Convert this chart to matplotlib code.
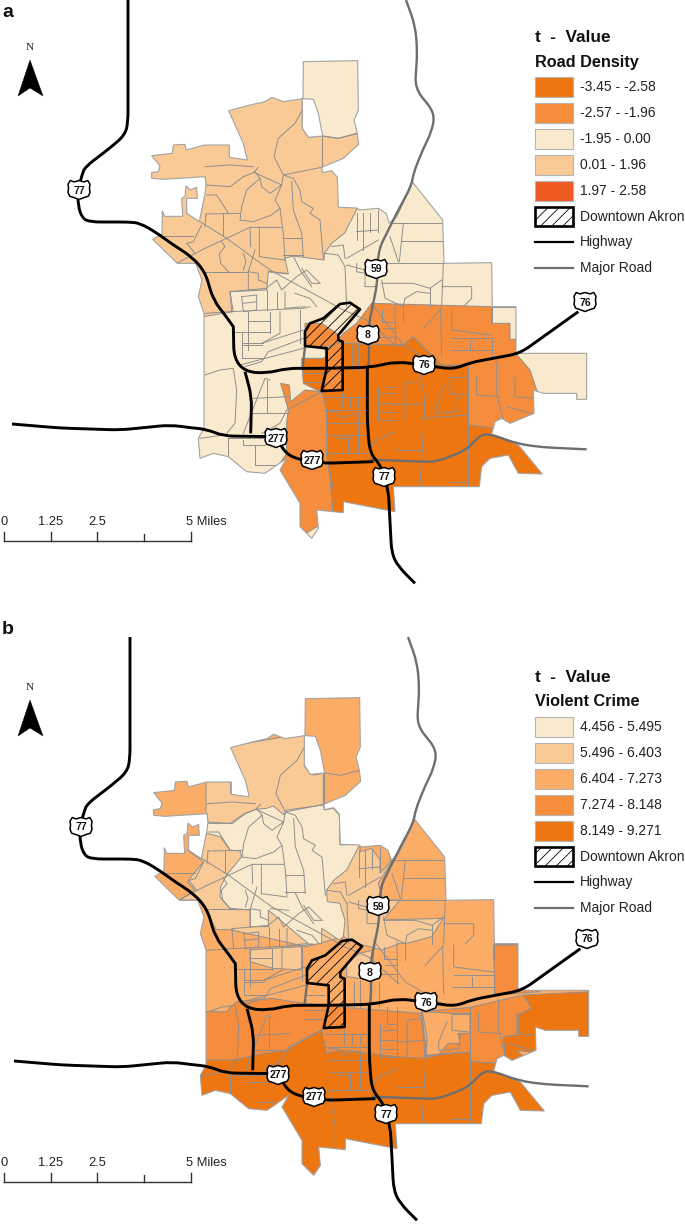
import matplotlib
matplotlib.use("Agg")
import numpy as np
import matplotlib.pyplot as plt
from matplotlib.patches import Polygon, Rectangle, PathPatch
from matplotlib.path import Path

plt.rcParams['font.family'] = ['Liberation Sans', 'DejaVu Sans']
plt.rcParams['hatch.linewidth'] = 0.6

PALE, LIGHT, MED, MID, DARK, RED = '#FAEACD', '#F9CA96', '#FBAC66', '#F58D3D', '#EE7611', '#EE5A22'
EDGE = '#8f8f8f'

# coordinate frames
def n(p): return [(130 + x / 3, 50 + y / 3) for x, y in p]
def s(p): return [(190 + x / 3, 290 + y / 3) for x, y in p]
def n_b(p): return [(130 + x / 3, 680 + y / 3) for x, y in p]
def s_b(p): return [(190 + x / 3, 920 + y / 3) for x, y in p]

OFFSET_B = (2, 637)

# study-area outline
OUTLINE = (
    n([(520, 35), (683, 32), (685, 180), (672, 210), (682, 250), (686, 283), (640, 325), (575, 352), (578, 368),
       (605, 362), (622, 382), (625, 472), (680, 474), (690, 480), (745, 475), (768, 490), (778, 520), (800, 500),
       (848, 397), (938, 510), (942, 640), (1085, 638), (1087, 770), (1158, 770), (1158, 866)])
    + s([(978, 190), (1190, 190), (1190, 328), (1160, 328), (1160, 310), (1060, 310), (1030, 300), (1032, 370),
         (960, 400), (935, 385), (915, 395), (905, 432), (985, 465), (1057, 552), (985, 550), (955, 495), (900, 505),
         (875, 530), (868, 590), (780, 590), (610, 590), (615, 665), (460, 635), (460, 668), (380, 660), (385, 715),
         (365, 745), (330, 710), (330, 640), (270, 540), (290, 505), (225, 550), (170, 545), (115, 500), (70, 490),
         (30, 505), (25, 445), (42, 415), (42, 70)])
    + n([(222, 790), (205, 740), (216, 690), (197, 640), (142, 640), (68, 568), (96, 552), (97, 482), (104, 499),
         (158, 499), (155, 445), (165, 440), (168, 408), (182, 420), (200, 412), (202, 445), (170, 445), (170, 490),
         (208, 515), (225, 430), (228, 405), (225, 380), (100, 388), (65, 385), (65, 368), (85, 365), (90, 348),
         (65, 317), (127, 310), (130, 285), (165, 283), (168, 300), (225, 285), (298, 285), (298, 322), (352, 330),
         (340, 280), (296, 182), (360, 165), (405, 155), (425, 142), (460, 155), (517, 146), (517, 235), (535, 262),
         (578, 258), (565, 190), (550, 148), (519, 146)])
)

DOWNTOWN = s([(345, 165), (345, 125), (360, 100), (400, 85), (450, 42), (480, 38), (510, 58), (445, 135), (445, 150),
              (458, 155), (458, 300), (395, 303), (410, 235), (410, 175), (345, 168)])

ZONES_A = [
    (LIGHT, n([(0, 0), (515, 0), (517, 146), (517, 235), (535, 262), (578, 258), (625, 265), (682, 250), (720, 250),
               (684, 471), (644, 549), (606, 579), (584, 609), (582, 630), (490, 618), (465, 625), (475, 672),
               (415, 665), (410, 720), (300, 725), (310, 785), (220, 800), (0, 800)])),
    (DARK, s([(335, 205), (400, 205), (460, 160), (640, 165), (670, 140), (755, 225), (840, 225), (835, 375), (835, 405),
              (915, 395), (1100, 395), (1100, 600), (620, 700), (430, 700), (415, 570), (410, 400), (400, 310),
              (340, 280)])),
    (MID, s([(272, 280), (298, 285), (302, 335), (345, 300), (395, 305), (410, 360), (410, 490), (420, 560), (430, 680),
             (300, 760), (250, 550), (290, 490), (290, 395), (295, 360)])),
    (MID, s([(500, 100), (545, 40), (905, 50), (905, 100), (960, 100), (960, 148), (977, 148), (977, 190), (1020, 240),
             (1040, 300), (1040, 380), (960, 420), (835, 405), (835, 225), (755, 225), (670, 140), (640, 165),
             (460, 160), (445, 150), (460, 130)])),
    (MID, s([(345, 100), (395, 100), (440, 130), (450, 165), (400, 170), (345, 170)])),
    (MID, s([(405, 175), (458, 155), (458, 300), (395, 303), (410, 235)])),
]

ZONES_B = [
    (LIGHT, n_b([(228, 300), (302, 300), (302, 340), (352, 345), (290, 200), (524, 160), (524, 260), (550, 285),
                 (580, 280), (580, 375), (640, 500), (690, 492), (745, 495), (775, 500), (785, 545), (745, 610),
                 (760, 660), (810, 660), (760, 720), (940, 715), (905, 770), (830, 790), (810, 790), (755, 810),
                 (720, 800), (680, 790), (640, 770), (530, 800), (305, 750), (258, 748), (232, 695), (203, 660),
                 (148, 660), (195, 630), (172, 605), (220, 545), (172, 510), (207, 530), (230, 460), (228, 430)])),
    (MED, n_b([(690, 492), (775, 498), (782, 545), (750, 580), (750, 540), (725, 505), (690, 515)])),
    (PALE, n_b([(228, 430), (300, 430), (345, 400), (378, 388), (410, 385), (430, 378), (462, 405), (470, 390),
                (580, 375), (583, 390), (610, 385), (628, 405), (630, 495), (690, 492), (650, 570), (612, 600),
                (590, 630), (592, 665), (630, 670), (635, 690), (645, 720), (640, 770), (628, 780), (575, 745),
                (575, 790), (540, 795), (415, 690), (415, 740), (360, 740), (360, 690), (300, 685), (270, 650),
                (272, 620), (290, 585), (335, 530), (330, 513), (300, 510), (270, 470), (230, 460)])),
    (LIGHT, s_b([(180, 90), (245, 85), (335, 80), (335, 150), (250, 145), (180, 125)])),
    (LIGHT, s_b([(470, 130), (510, 100), (550, 90), (550, 180), (470, 170)])),
    (MID, s_b([(45, 275), (110, 275), (140, 245), (245, 235), (340, 250), (405, 255), (460, 262), (690, 280), (710, 400),
               (705, 420), (400, 400), (395, 330), (290, 395), (225, 410), (130, 430), (40, 430)])),
    (MID, s_b([(695, 275), (840, 262), (1000, 225), (1025, 265), (985, 285), (985, 345), (940, 350), (945, 400),
               (960, 425), (920, 430), (843, 425), (838, 397), (740, 405), (705, 415)])),
    (MID, s_b([(910, 75), (1050, 75), (1050, 215), (915, 225)])),
    (MED, s_b([(695, 275), (790, 280), (840, 280), (840, 340), (805, 340), (810, 370), (775, 370), (745, 405), (710, 408)])),
    (DARK, s_b([(0, 470), (30, 470), (45, 420), (130, 420), (225, 400), (290, 390), (395, 330), (410, 400), (450, 390),
                (620, 410), (705, 415), (740, 405), (838, 397), (843, 425), (920, 430), (1100, 430), (1100, 800),
                (0, 800)])),
    (DARK, s_b([(985, 285), (1025, 265), (1000, 225), (1250, 213), (1250, 400), (1040, 400), (980, 390), (1005, 415),
                (960, 425), (945, 400), (940, 350), (985, 345)])),
]

TRACT_LINES = [n(p) for p in [
    [(517, 180), (495, 220), (445, 265), (432, 320), (460, 375), (575, 352)],
    [(575, 258), (575, 352)],
    [(578, 258), (625, 265), (682, 250)],
    [(225, 350), (300, 345), (370, 350)],
    [(225, 380), (228, 405), (300, 410), (340, 380), (372, 367), (455, 405)],
    [(372, 367), (385, 352)],
    [(375, 365), (390, 385), (395, 410), (420, 430), (455, 405), (460, 375), (490, 385), (510, 420), (515, 455),
     (550, 475), (540, 490), (570, 510), (580, 625)],
    [(390, 385), (350, 420), (335, 470), (330, 510), (370, 515), (425, 495), (450, 475), (460, 550), (465, 625)],
    [(455, 405), (435, 450), (450, 475)],
    [(485, 395), (490, 480), (515, 550), (520, 620)],
    [(458, 565), (515, 565)],
    [(458, 615), (520, 615)],
    [(230, 435), (260, 435), (295, 490)],
    [(228, 492), (330, 490)],
    [(228, 492), (225, 530)],
    [(278, 492), (278, 555)],
    [(170, 490), (290, 565), (420, 660), (640, 780), (710, 810), (800, 890)],
    [(140, 640), (215, 600), (360, 532), (455, 532)],
    [(360, 532), (362, 590)],
    [(388, 532), (388, 620), (465, 630)],
    [(95, 558), (190, 558)],
    [(215, 525), (190, 575), (170, 580), (195, 610)],
    [(275, 575), (285, 590), (268, 610), (272, 640), (295, 665)],
    [(340, 610), (348, 635), (340, 660)],
    [(375, 600), (355, 665), (355, 720)],
    [(225, 665), (355, 665)],
    [(355, 665), (385, 670), (385, 690), (410, 700)],
    [(415, 665), (470, 670)],
    [(412, 712), (440, 690), (455, 720), (500, 680), (530, 660), (570, 700)],
    [(490, 618), (510, 660), (545, 710)],
    [(515, 655), (545, 700), (570, 700)],
    [(300, 725), (305, 785)],
    [(335, 740), (380, 735), (380, 780), (340, 785), (335, 740)],
    [(340, 760), (380, 755)],
    [(410, 720), (410, 780)],
    [(440, 725), (440, 775)],
    [(465, 725), (465, 775), (525, 770)],
    [(495, 730), (540, 745), (560, 770)],
    [(300, 725), (410, 715)],
    [(225, 790), (300, 785), (520, 775), (540, 770)],
    [(585, 610), (625, 615), (645, 650)],
    [(650, 625), (745, 570)],
    [(645, 650), (650, 770)],
    [(680, 490), (680, 570)],
    [(700, 490), (700, 600)],
    [(720, 490), (720, 545)],
    [(745, 480), (745, 545)],
    [(680, 545), (745, 540)],
    [(605, 590), (640, 585), (645, 625)],
    [(820, 520), (808, 635)],
    [(785, 520), (940, 520)],
    [(815, 572), (940, 572)],
    [(780, 560), (805, 635)],
    [(745, 640), (940, 640)],
    [(940, 640), (935, 770)],
    [(650, 645), (705, 660)],
    [(680, 640), (680, 665), (705, 670), (705, 710), (740, 710)],
    [(755, 690), (765, 745), (820, 770)],
    [(755, 700), (850, 700), (900, 715), (935, 690)],
    [(900, 715), (900, 770)],
    [(935, 710), (1025, 710), (1025, 745), (1000, 770)],
    [(820, 770), (825, 745), (860, 725), (900, 730)],
    [(355, 790), (355, 900)],
    [(355, 812), (420, 812)],
    [(420, 785), (420, 850)],
    [(450, 785), (450, 850), (395, 880)],
    [(355, 845), (420, 845)],
    [(510, 780), (510, 880)],
    [(335, 880), (400, 880)],
    [(395, 880), (520, 840)],
]] + [s(p) for p in [
    [(175, 65), (175, 125), (240, 125)],
    [(135, 125), (215, 125)],
    [(155, 165), (215, 165)],
    [(155, 125), (155, 205), (215, 205)],
    [(340, 145), (235, 185), (215, 215), (165, 230)],
    [(150, 225), (340, 175)],
    [(30, 445), (100, 435)],
    [(45, 255), (90, 240), (130, 235), (140, 300), (135, 400), (110, 430)],
    [(395, 305), (290, 360), (270, 400), (215, 430)],
    [(240, 270), (225, 265), (160, 430)],
    [(230, 270), (230, 370)],
    [(190, 325), (295, 320)],
    [(190, 370), (295, 370)],
    [(115, 445), (220, 445)],
    [(160, 450), (160, 465), (225, 465)],
    [(195, 465), (195, 525), (280, 525)],
    [(115, 445), (115, 500)],
    [(340, 205), (395, 205)],
    [(340, 250), (400, 250)],
    [(340, 275), (400, 275)],
    [(485, 165), (485, 240)],
    [(505, 160), (505, 240)],
    [(560, 165), (560, 240)],
    [(400, 320), (530, 320)],
    [(400, 360), (530, 360)],
    [(405, 400), (530, 400)],
    [(455, 310), (455, 350)],
    [(480, 320), (480, 350)],
    [(505, 320), (505, 350)],
    [(410, 365), (440, 365), (450, 385), (505, 370)],
    [(410, 435), (530, 435)],
    [(470, 370), (470, 435)],
    [(505, 370), (505, 490)],
    [(475, 435), (475, 490)],
    [(435, 445), (470, 445), (470, 485)],
    [(410, 490), (540, 490)],
    [(565, 290), (565, 390), (615, 390)],
    [(565, 310), (615, 310)],
    [(565, 340), (615, 340)],
    [(565, 365), (615, 365)],
    [(615, 240), (615, 510)],
    [(585, 240), (585, 290), (615, 290)],
    [(545, 470), (560, 450), (615, 425)],
    [(615, 345), (705, 340)],
    [(680, 275), (645, 280), (645, 390)],
    [(690, 250), (705, 330), (695, 510), (690, 590)],
    [(835, 240), (835, 590)],
    [(780, 260), (835, 260)],
    [(780, 260), (780, 310), (835, 315)],
    [(740, 345), (765, 285)],
    [(740, 345), (740, 370), (800, 365), (805, 320)],
    [(695, 385), (835, 375)],
    [(615, 480), (695, 480)],
    [(780, 575), (835, 575)],
    [(410, 490), (430, 600), (430, 670)],
    [(860, 260), (860, 315), (930, 320)],
    [(920, 215), (920, 310), (940, 390)],
    [(975, 260), (975, 320), (1030, 325)],
    [(950, 350), (1030, 372)],
    [(615, 45), (617, 170)],
    [(640, 45), (640, 100)],
    [(755, 55), (700, 115)],
    [(752, 60), (755, 200)],
    [(785, 55), (785, 120), (905, 135)],
    [(785, 145), (905, 145), (905, 205)],
    [(905, 50), (905, 100)],
    [(815, 180), (905, 180)],
    [(780, 180), (840, 180), (840, 150)],
    [(575, 60), (575, 95), (615, 95)],
    [(580, 115), (615, 115)],
    [(560, 140), (615, 140)],
    [(545, 40), (640, 165), (750, 230)],
    [(905, 100), (905, 50), (978, 50), (978, 148)],
]]

HIGHWAYS = [
    [(128, 0), (128, 122), (125, 135), (110, 148), (85, 167), (82, 175), (78, 190), (78, 205), (82, 218), (90, 222),
     (130, 222)] + n([(30, 520), (75, 545), (130, 585), (185, 620), (225, 665), (250, 750), (285, 795), (310, 830)])
    + s([(130, 110), (132, 205), (165, 245), (230, 250), (290, 235), (400, 235), (540, 232), (620, 215), (700, 225),
         (790, 238), (840, 218), (990, 190), (1165, 65)]),
    s([(165, 245), (185, 320), (182, 430)]),
    [(12, 424), (60, 428), (120, 430), (170, 425)]
    + s([(0, 413), (50, 418), (100, 438), (260, 440), (285, 490), (330, 510), (400, 520), (550, 515)]),
    s([(532, 232), (532, 400), (540, 490), (575, 530), (595, 600), (605, 790), (625, 830), (675, 880)]),
]
MAJOR_ROADS = [
    [(406, 0), (415, 25)] + n([(862, 0), (855, 115), (915, 190), (905, 245), (880, 295), (850, 370), (845, 405),
                               (800, 490), (745, 600), (742, 700), (715, 830), (718, 900)]) + s([(535, 230)]),
    s([(540, 510), (570, 510), (700, 515), (740, 515), (830, 480), (870, 435), (900, 432), (985, 462), (1060, 472),
       (1190, 478)]),
    s([(338, 230), (345, 170)]),
]

SHIELD_NAMES = ['77', '59', '8', '76', '76', '277', '277', '77']
SHIELD_X = [79, 376, 368, 424, 585, 276, 312, 384]
SHIELD_Y = [190, 269, 335, 365, 302, 438, 460, 477]

LEGEND_A = ['-3.45 - -2.58', '-2.57 - -1.96', '-1.95 - 0.00', '0.01 - 1.96', '1.97 - 2.58']
COLORS_A = [DARK, MID, PALE, LIGHT, RED]
LEGEND_B = ['4.456 - 5.495', '5.496 - 6.403', '6.404 - 7.273', '7.274 - 8.148', '8.149 - 9.271']
COLORS_B = [PALE, LIGHT, MED, MID, DARK]
SCALE_MILES = [0, 1.25, 2.5, 3.75, 5]
SCALE_LABELS = ['0', '1.25', '2.5', '', '5 Miles']

fig = plt.figure(figsize=(6.85, 12.27), dpi=100)
ax = fig.add_axes([0, 0, 1, 1])
ax.set_xlim(0, 685)
ax.set_ylim(1227, 0)
ax.axis('off')


def shift(p, o):
    return [(x + o[0], y + o[1]) for x, y in p]


def rounded_path(pts, r=11.0):
    """Polyline whose corners are drawn as quadratic curves."""
    pts = [np.array(p, float) for p in pts]
    verts, codes = [pts[0]], [Path.MOVETO]
    for prev, v, nxt in zip(pts[:-2], pts[1:-1], pts[2:]):
        d1, d2 = np.linalg.norm(prev - v), np.linalg.norm(nxt - v)
        a = v + (prev - v) * min(.5, r / d1)
        b = v + (nxt - v) * min(.5, r / d2)
        verts += [a, v, b]
        codes += [Path.LINETO, Path.CURVE3, Path.CURVE3]
    verts.append(pts[-1])
    codes.append(Path.LINETO)
    return Path(verts, codes)


def shield(cx, cy, label):
    w, h = 11, 9.5
    shape = [(-.8, -1), (-.45, -.85), (0, -1), (.45, -.85), (.8, -1), (1, -.6), (.95, -.2), (1, .25), (.85, .65),
             (.45, .8), (0, 1), (-.45, .8), (-.85, .65), (-1, .25), (-.95, -.2), (-1, -.6)]
    ax.add_patch(Polygon([(cx + a * w, cy + b * h) for a, b in shape], closed=True, fc='white', ec='black', lw=1.1,
                         joinstyle='round', zorder=6))
    ax.text(cx, cy + 0.5, label, ha='center', va='center', fontsize=7.5, fontweight='bold', color='#111111', zorder=7)


def draw_map(o, base, zones, zones_absolute):
    outline = Polygon(shift(OUTLINE, o), closed=True, fc=base, ec='none', zorder=1)
    ax.add_patch(outline)
    for color, pts in zones:
        p = Polygon(pts if zones_absolute else shift(pts, o), closed=True, fc=color, ec=EDGE, lw=0.7, zorder=2)
        ax.add_patch(p)
        p.set_clip_path(outline)
    for line in TRACT_LINES:
        xs, ys = zip(*shift(line, o))
        l, = ax.plot(xs, ys, color=EDGE, lw=0.7, zorder=3)
        l.set_clip_path(outline)
    ax.add_patch(Polygon(shift(OUTLINE, o), closed=True, fc='none', ec='#a3a3a3', lw=0.8, zorder=3))
    for road in MAJOR_ROADS:
        ax.add_patch(PathPatch(rounded_path(shift(road, o)), fc='none', ec='#6e6e6e', lw=1.7, zorder=4))
    for road in HIGHWAYS:
        ax.add_patch(PathPatch(rounded_path(shift(road, o)), fc='none', ec='black', lw=2.1, zorder=5))
    ax.add_patch(Polygon(shift(DOWNTOWN, o), closed=True, fc='none', ec='black', lw=0.0, hatch='///', zorder=4.5))
    ax.add_patch(Polygon(shift(DOWNTOWN, o), closed=True, fc='none', ec='black', lw=1.9, zorder=5,
                         joinstyle='round'))
    for name, x, y in zip(SHIELD_NAMES, SHIELD_X, SHIELD_Y):
        shield(x + o[0], y + o[1], name)


def draw_legend(dy, title, labels, colors):
    x0, x1, tx = 535, 573, 580
    ax.text(535, 38 + dy, 't  -  Value', fontsize=12.4, fontweight='bold', va='center', color='#111111')
    ax.text(535, 62 + dy, title, fontsize=11.7, fontweight='bold', va='center', color='#111111')
    for i, (lab, col) in enumerate(zip(labels, colors)):
        top = 77 + dy + i * 26
        ax.add_patch(Rectangle((x0, top), x1 - x0, 19.5, fc=col, ec='#b5b5b5', lw=0.8, zorder=2))
        ax.text(tx, top + 10, lab, fontsize=10, va='center', color='#222222')
    top = 207 + dy
    ax.add_patch(Rectangle((x0, top), x1 - x0, 19, fc='white', ec='black', lw=1.9, hatch='///', zorder=2))
    ax.text(tx, top + 10, 'Downtown Akron', fontsize=10, va='center', color='#222222')
    ax.plot([x0, x1], [242 + dy, 242 + dy], color='black', lw=1.6)
    ax.text(tx, 242 + dy, 'Highway', fontsize=10, va='center', color='#222222')
    ax.plot([x0, x1], [268 + dy, 268 + dy], color='#6e6e6e', lw=1.6)
    ax.text(tx, 268 + dy, 'Major Road', fontsize=10, va='center', color='#222222')


def draw_north(dy):
    ax.text(30, 48 + dy, 'N', family='Liberation Serif', fontsize=8, ha='center', va='center', color='#222222')
    ax.add_patch(Polygon([(30, 60 + dy), (43, 96 + dy), (30, 88 + dy), (18, 96 + dy)], closed=True, fc='black',
                         ec='black', lw=0.3))


def draw_scale(dy):
    y = 541 + dy
    px_per_mile = (191 - 4) / 5
    ax.plot([4, 191], [y, y], color='#333333', lw=1.0)
    for m, lab in zip(SCALE_MILES, SCALE_LABELS):
        x = 4 + m * px_per_mile
        major = lab != ''
        ax.plot([x, x], [y, y - (9 if major else 7)], color='#333333', lw=1.0)
        if lab == '5 Miles':
            ax.text(x - 5, 522 + dy, lab, fontsize=9.3, va='center', ha='left', color='#222222')
        elif major:
            ax.text(x, 522 + dy, lab, fontsize=9.3, va='center', ha='center', color='#222222')


draw_map((0, 0), PALE, ZONES_A, False)
draw_map(OFFSET_B, MED, ZONES_B, True)
draw_legend(0, 'Road Density', LEGEND_A, COLORS_A)
draw_legend(640, 'Violent Crime', LEGEND_B, COLORS_B)
draw_north(0)
draw_north(640)
draw_scale(0)
draw_scale(641)
ax.text(2, 17, 'a', fontsize=14, fontweight='bold', va='baseline', color='#111111')
ax.text(2, 634, 'b', fontsize=14, fontweight='bold', va='baseline', color='#111111')

fig.savefig('out.png', dpi=100)
